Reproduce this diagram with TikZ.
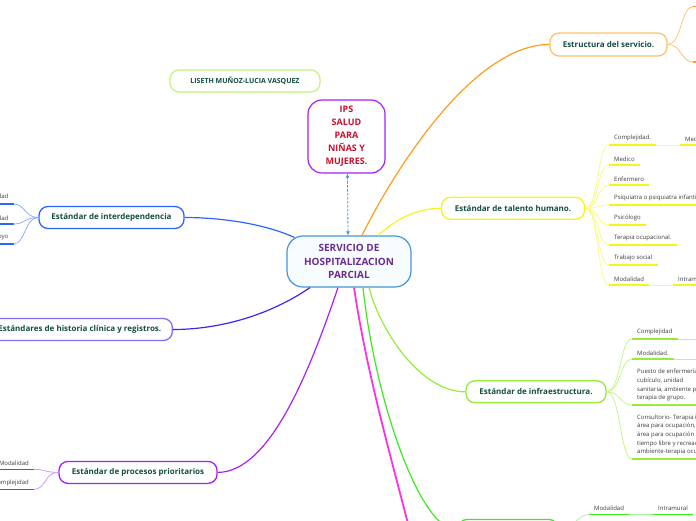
\documentclass[tikz,border=0pt]{standalone}
\usepackage{fontspec}
\setmainfont{Open Sans}
\usepackage{tikz}
\usetikzlibrary{arrows.meta}
\definecolor{MapTeal}{RGB}{19,78,64}
\definecolor{MapPurpleText}{RGB}{106,44,142}
\definecolor{MapCrimson}{RGB}{200,16,46}
\definecolor{MapOrange}{RGB}{255,156,26}
\definecolor{MapOrangeLight}{RGB}{255,192,105}
\definecolor{MapYellow}{RGB}{245,245,30}
\definecolor{MapYellowLight}{RGB}{250,250,130}
\definecolor{MapLime}{RGB}{150,235,60}
\definecolor{MapLimeLight}{RGB}{192,245,130}
\definecolor{MapGreen}{RGB}{60,235,30}
\definecolor{MapGreenLight}{RGB}{165,245,155}
\definecolor{MapPink}{RGB}{255,50,225}
\definecolor{MapViolet}{RGB}{170,30,245}
\definecolor{MapVioletLight}{RGB}{208,145,250}
\definecolor{MapIndigo}{RGB}{68,34,238}
\definecolor{MapIndigoBorder}{RGB}{130,110,245}
\definecolor{MapBlue}{RGB}{45,100,255}
\definecolor{MapBlueLight}{RGB}{135,170,255}
\definecolor{MapSky}{RGB}{70,150,215}
\definecolor{MapSkyBg}{RGB}{247,252,255}
\definecolor{LeafGray}{RGB}{60,60,60}

\begin{document}
\begin{tikzpicture}[
x=1pt,y=-1pt,
branch/.style={
draw,
line width=1.3pt,
fill=white,
rounded corners=9pt,
minimum height=22pt,
font=\fontsize{8}{10}\selectfont\bfseries,
text=MapTeal
},
leaf/.style={
font=\fontsize{6}{8.7}\selectfont,
text=LeafGray,
inner xsep=5pt,
inner ysep=3.5pt,
align=left
},
link/.style={line width=1.2pt},
twig/.style={line width=0.75pt},
ul/.style={line width=1.6pt}
]
\useasboundingbox (0,0) rectangle (696,520);
\clip (0,0) rectangle (696,520);

\node[
draw=MapSky,
line width=1.2pt,
fill=MapSkyBg,
rounded corners=16pt,
minimum width=124pt,
minimum height=51pt,
align=center,
text=MapPurpleText,
font=\fontsize{10}{13.3}\selectfont\bfseries
] (servicio) at (349,261.5) {SERVICIO DE\\HOSPITALIZACION\\PARCIAL};

\node[
draw=MapViolet,
line width=1.2pt,
fill=white,
rounded corners=14pt,
minimum width=77pt,
minimum height=73pt,
align=center,
text=MapCrimson,
font=\fontsize{9}{13}\selectfont\bfseries
] (ips) at (346.5,136.5) {IPS\\SALUD\\PARA\\NIÑAS Y\\MUJERES.};

\node[branch, draw=MapLimeLight, minimum width=150pt, font=\fontsize{7}{9}\selectfont\bfseries] (autoras) at (245,81) {LISETH MUÑOZ-LUCIA VASQUEZ};

\node[branch, draw=MapOrangeLight, minimum width=117pt, minimum height=23pt] (estructura) at (608.5,44.5) {Estructura del servicio.};
\node[branch, draw=MapYellow, minimum width=143pt] (talento) at (513,208.3) {Estándar de talento humano.};
\node[branch, draw=MapLime, minimum width=140pt] (infra) at (536,391.8) {Estándar de infraestructura.};
\node[branch, draw=MapBlue, minimum width=145pt] (interdep) at (111.5,217.5) {Estándar de interdependencia};
\node[branch, draw=MapIndigoBorder, anchor=east, minimum width=185pt] (historia) at (173,329.5) {Estándares de historia clínica y registros.};
\node[branch, draw=MapViolet, minimum width=158pt] (procesos) at (138,472.4) {Estándar de procesos prioritarios};
\node[branch, draw=MapGreen, minimum width=100pt] (verde) at (508,530.5) {};
\coordinate (rosa) at (420,570);

\draw[MapSky, line width=0.8pt, dash pattern=on 2.5pt off 1.5pt, {Latex[length=4pt,width=4pt]}-{Latex[length=4pt,width=4pt]}] ([xshift=1pt]ips.south) -- ([xshift=-1pt]servicio.north);

\draw[link, MapOrange] ([xshift=13pt]servicio.north) .. controls (397,165) and (475,44.5) .. (estructura.west);
\draw[link, MapYellow] ([xshift=29pt]servicio.north) .. controls (397,218) and (418,208.3) .. (talento.west);
\draw[link, MapBlue] ([shift={(8pt,-2pt)}]servicio.north west) .. controls (260,222) and (215,217.5) .. (interdep.east);
\draw[link, MapIndigo] ([xshift=-39pt]servicio.south) .. controls (270,315) and (220,329.5) .. (historia.east);
\draw[link, MapViolet] ([xshift=-11pt]servicio.south) .. controls (310,370) and (270,472.4) .. (procesos.east);
\draw[link, line width=1.8pt, MapPink] ([xshift=5pt]servicio.south) .. controls (368,380) and (392,460) .. (rosa);
\draw[link, MapGreen] ([xshift=14pt]servicio.south) .. controls (375,400) and (420,530.5) .. (verde.west);
\draw[link, MapLime] ([xshift=20pt]servicio.south) .. controls (380,330) and (420,391.8) .. (infra.west);

\coordinate (e1) at (693,6.5);
\coordinate (e2) at (693,62);
\foreach \name in {e1,e2}{
\draw[twig, MapOrangeLight] (estructura.east) .. controls +(14,0) and +(-12,0) .. (\name);
\draw[ul, MapOrange] (\name) -- +(5,0);
}

\foreach \name/\y/\txt in {t1/145/Complejidad., t2/165/Medico, t3/185/Enfermero, t4/205/Psiquiatra o psiquiatra infantil, t5/225/Psicólogo, t6/245/Terapia ocupacional., t7/265/Trabajo social, t8/285/Modalidad}{
\node[leaf, anchor=south west] (\name) at (609,\y) {\txt};
\draw[ul, MapYellow] (\name.south west) -- (\name.south east);
\draw[twig, MapYellowLight] (talento.east) .. controls +(14,0) and +(-12,0) .. (\name.south west);
}
\node[leaf, anchor=south west] (t1b) at (680,145) {Mediana};
\node[leaf, anchor=south west] (t8b) at (673,285) {Intramural};
\foreach \a/\b in {t1/t1b, t8/t8b}{
\draw[ul, MapYellow] (\b.south west) -- (\b.south east);
\draw[twig, MapYellowLight] (\a.south east) -- (\b.south west);
}

\node[leaf, anchor=south west] (i1) at (632,339) {Complejidad};
\node[leaf, anchor=south west] (i2) at (632,359) {Modalidad.};
\node[leaf, anchor=south west] (i3) at (632,405) {Puesto de enfermería,\\cubículo, unidad\\sanitaria, ambiente para\\terapia de grupo.};
\node[leaf, anchor=south west] (i4) at (632,459) {Consultorio- Terapia individual,\\área para ocupación,\\área para ocupación del\\tiempo libre y recreación,\\ambiente-terapia ocupacional.};
\foreach \name in {i1,i2,i3,i4}{
\draw[ul, MapLime] (\name.south west) -- (\name.south east);
\draw[twig, MapLimeLight] (infra.east) .. controls +(14,0) and +(-12,0) .. (\name.south west);
}
\coordinate (i1b) at (700,339);
\coordinate (i2b) at (700,359);
\draw[twig, MapLimeLight] (i1.south east) -- (i1b);
\draw[twig, MapLimeLight] (i2.south east) -- (i2b);

\node[leaf, anchor=south west] (v1) at (589,514.5) {Modalidad};
\node[leaf, anchor=south west] (v2) at (653,514.5) {Intramural};
\draw[ul, MapGreen] (v1.south west) -- (v1.south east);
\draw[ul, MapGreen] (v2.south west) -- (v2.south east);
\draw[twig, MapGreenLight] (verde.east) .. controls +(14,0) and +(-12,0) .. (v1.south west);
\draw[twig, MapGreenLight] (v1.south east) -- (v2.south west);

\foreach \name/\y/\txt in {d1/204/Complejidad, d2/224/Modalidad, d3/244/Apoyo}{
\node[leaf, anchor=south east] (\name) at (13.5,\y) {\txt};
\draw[ul, MapBlue] (\name.south west) -- (\name.south east);
\draw[twig, MapBlueLight] (interdep.west) .. controls +(-14,0) and +(12,0) .. (\name.south east);
}

\foreach \name/\y/\txt in {p1/469.3/Modalidad, p2/489.3/Complejidad}{
\node[leaf, anchor=south east] (\name) at (34,\y) {\txt};
\draw[ul, MapViolet] (\name.south west) -- (\name.south east);
\draw[twig, MapVioletLight] (procesos.west) .. controls +(-14,0) and +(12,0) .. (\name.south east);
}

\end{tikzpicture}
\end{document}
